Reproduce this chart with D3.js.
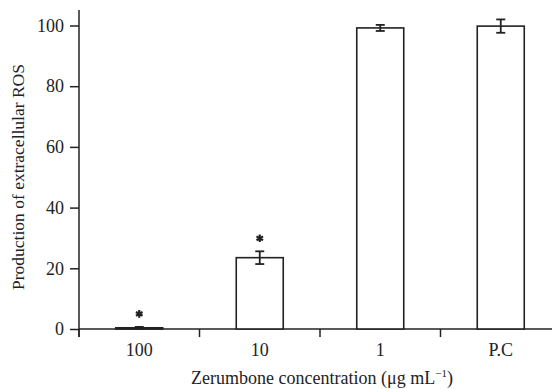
<!DOCTYPE html>
<html>
<head>
<meta charset="utf-8">
<script src="https://cdn.jsdelivr.net/npm/d3@7"></script>
<style>
  body { margin: 0; background: #fff; }
  text { font-family: "Liberation Serif", "DejaVu Serif", serif; fill: #222; }
</style>
</head>
<body>
<div id="chart"></div>
<script>
// data
const categories = ['100', '10', '1', 'P.C'];
const means = [0.4, 23.5, 99.2, 99.8];
const errors = [0.3, 2.1, 1.0, 2.2];
const significant = [true, true, false, false];
const yTicks = [0, 20, 40, 60, 80, 100];

const dims = { width: 552, height: 389 };
const margins = { left: 79, top: 10, bottom: 60 };
const ink = '#222';
const serif = '"Liberation Serif", "DejaVu Serif", serif';

const svg = d3.select('div#chart')
  .append('svg')
  .attr('width', dims.width)
  .attr('height', dims.height)
  .attr('font-family', serif);

const yScale = d3.scaleLinear()
  .domain([0, 100])
  .range([329, 25.5]);

const xScale = d3.scaleBand()
  .domain(categories)
  .range([margins.left, margins.left + 4 * 120.5])
  .paddingInner(0.61)
  .paddingOuter(0.305);

const slot = xScale.step();
const gap = (slot - xScale.bandwidth()) / 2;

// y axis
const yGroup = svg.append('g')
  .attr('transform', `translate(${margins.left},0)`)
  .call(d3.axisLeft(yScale).tickValues(yTicks).tickSize(9).tickPadding(6))
  .attr('font-family', serif)
  .attr('font-size', 18);
yGroup.select('.domain').remove();
yGroup.selectAll('.tick line').attr('stroke', ink).attr('stroke-width', 1.5);
yGroup.selectAll('.tick text').attr('fill', ink);

svg.append('line')
  .attr('x1', margins.left).attr('x2', margins.left)
  .attr('y1', margins.top).attr('y2', yScale(0) + 8)
  .attr('stroke', ink).attr('stroke-width', 1.5);

// x axis line across the whole width
svg.append('line')
  .attr('x1', margins.left).attr('x2', dims.width)
  .attr('y1', yScale(0)).attr('y2', yScale(0))
  .attr('stroke', ink).attr('stroke-width', 1.5);

// ticks sit between the groups
const bounds = categories.map(c => xScale(c) - gap);
svg.selectAll('line.xtick')
  .data(bounds)
  .join('line')
  .attr('class', 'xtick')
  .attr('x1', d => d).attr('x2', d => d)
  .attr('y1', yScale(0)).attr('y2', yScale(0) + 8)
  .attr('stroke', ink).attr('stroke-width', 1.5);

svg.selectAll('text.xlab')
  .data(categories)
  .join('text')
  .attr('class', 'xlab')
  .attr('x', c => xScale(c) + xScale.bandwidth() / 2)
  .attr('y', 356)
  .attr('text-anchor', 'middle')
  .attr('font-size', 18)
  .text(c => c);

// bars
svg.selectAll('rect.bar')
  .data(categories)
  .join('rect')
  .attr('class', 'bar')
  .attr('x', c => xScale(c))
  .attr('width', xScale.bandwidth())
  .attr('y', (c, i) => yScale(means[i]))
  .attr('height', (c, i) => yScale(0) - yScale(means[i]))
  .attr('fill', '#fff')
  .attr('stroke', ink)
  .attr('stroke-width', 1.6);

// error bars
const eb = svg.selectAll('g.err')
  .data(categories)
  .join('g')
  .attr('class', 'err')
  .attr('transform', c => `translate(${xScale(c) + xScale.bandwidth() / 2},0)`);
eb.append('line')
  .attr('y1', (c, i) => yScale(means[i] + errors[i]))
  .attr('y2', (c, i) => yScale(means[i] - errors[i]))
  .attr('stroke', ink).attr('stroke-width', 1.8);
eb.append('line')
  .attr('x1', -4.5).attr('x2', 4.5)
  .attr('y1', (c, i) => yScale(means[i] + errors[i]))
  .attr('y2', (c, i) => yScale(means[i] + errors[i]))
  .attr('stroke', ink).attr('stroke-width', 1.8);
eb.append('line')
  .attr('x1', -4.5).attr('x2', 4.5)
  .attr('y1', (c, i) => yScale(means[i] - errors[i]))
  .attr('y2', (c, i) => yScale(means[i] - errors[i]))
  .attr('stroke', ink).attr('stroke-width', 1.8);

// significance stars
const star = d3.symbol().type(d3.symbolAsterisk).size(40);
svg.selectAll('path.star')
  .data(categories.filter((c, i) => significant[i]))
  .join('path')
  .attr('class', 'star')
  .attr('d', star)
  .attr('transform', c => {
    const i = categories.indexOf(c);
    return `translate(${xScale(c) + xScale.bandwidth() / 2},${yScale(means[i] + errors[i]) - 13})`;
  })
  .attr('fill', 'none')
  .attr('stroke', ink)
  .attr('stroke-width', 2.2);

// axis titles
svg.append('text')
  .attr('transform', 'translate(24,177) rotate(-90)')
  .attr('text-anchor', 'middle')
  .attr('font-size', 17.5)
  .text('Production of extracellular ROS');

const xt = svg.append('text')
  .attr('x', 322)
  .attr('y', 384)
  .attr('text-anchor', 'middle')
  .attr('font-size', 18);
xt.append('tspan').text('Zerumbone concentration (\u03bcg mL');
xt.append('tspan').attr('dy', -7).attr('font-size', 11).text('\u22121');
xt.append('tspan').attr('dy', 7).text(')');
</script>
</body>
</html>
